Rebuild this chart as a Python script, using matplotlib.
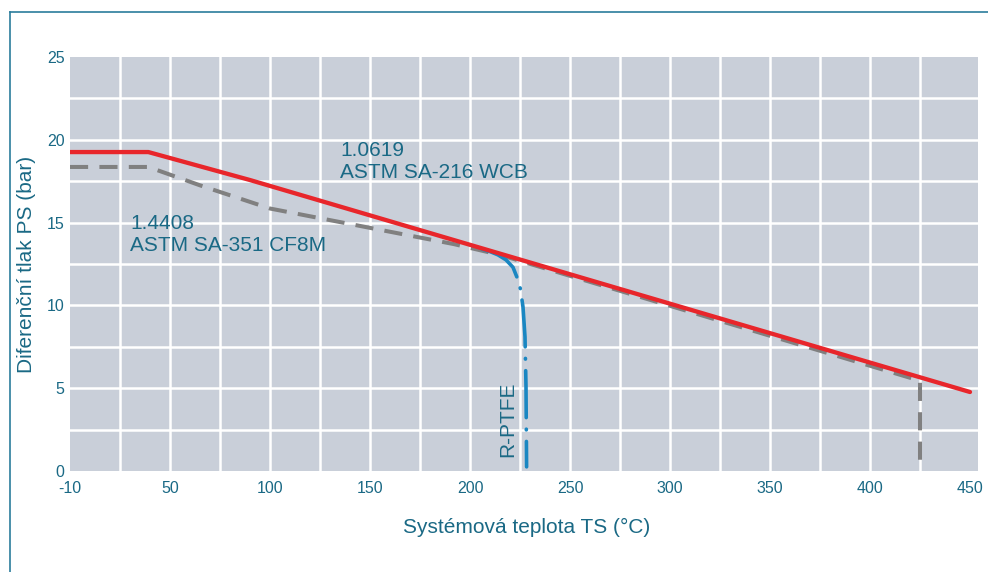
import matplotlib
matplotlib.use('Agg')
import matplotlib.pyplot as plt
import numpy as np
from matplotlib.lines import Line2D

plt.rcParams['font.family'] = ['Liberation Sans', 'DejaVu Sans']

# data
xticks = [-10, 50, 100, 150, 200, 250, 300, 350, 400, 450]
yticks = [0, 5, 10, 15, 20, 25]

# 1.0619 / ASTM SA-216 WCB (red)
wcb_t = [-10, 37, 90, 450]
wcb_p = [19.26, 19.26, 17.57, 4.77]

# 1.4408 / ASTM SA-351 CF8M (grey dashed)
cf8m_t = [-10, 37, 65, 100, 192, 215, 425, 425]
cf8m_p = [18.36, 18.36, 17.25, 15.85, 13.7, 13.05, 5.45, 0.0]

# R-PTFE seat (blue dash-dot)
ptfe_t = [206, 210, 214, 218, 221.5, 223.8, 225.2, 226.5, 227.5, 228, 228.3]
ptfe_p = [13.4, 13.25, 13.05, 12.75, 12.3, 11.6, 11.0, 9.9, 8.1, 5.1, 0.25]

txt = '#1a6985'
bg = '#c9cfd9'


# the first interval (-10..50) is drawn as wide as the 50-wide ones
def fwd(x):
    x = np.asarray(x, dtype=float)
    return np.where(x < 50, 50 + (x - 50) * 50 / 60, x)


def inv(t):
    t = np.asarray(t, dtype=float)
    return np.where(t < 50, 50 + (t - 50) * 60 / 50, t)


fig = plt.figure(figsize=(9.88, 5.72), dpi=100)
ax = fig.add_axes([70 / 988, 101 / 572, 908 / 988, 414 / 572])
ax.set_xscale('function', functions=(fwd, inv))
ax.set_facecolor(bg)
ax.set_xlim(-10, 454)
ax.set_ylim(0, 25)

ax.plot(cf8m_t, cf8m_p, color='#808080', lw=2.9, ls=(0, (4.5, 2.8)),
        dash_capstyle='butt', zorder=2)
ax.plot(ptfe_t, ptfe_p, color='#1a87c2', lw=2.6, ls=(0, (13, 3.2, 0.2, 3.2)),
        dash_capstyle='round', zorder=3)
ax.plot(wcb_t, wcb_p, color='#e8262b', lw=3.1, solid_capstyle='round', zorder=4)

ax.set_xticks(xticks)
ax.set_xticklabels([str(v) for v in xticks])
ax.set_yticks(yticks)
ax.set_xticks([20] + list(range(50, 450, 25)), minor=True)
ax.set_yticks(np.arange(2.5, 25, 2.5), minor=True)
ax.xaxis.remove_overlapping_locs = False
ax.yaxis.remove_overlapping_locs = False
ax.grid(False, which='major')
ax.grid(True, which='minor', color='white', lw=1.8)
ax.set_axisbelow(True)
ax.tick_params(which='both', length=0, labelsize=11.5, labelcolor=txt)
ax.tick_params(axis='x', pad=7)
ax.tick_params(axis='y', pad=4)
for s in ax.spines.values():
    s.set_visible(False)

ax.set_xlabel('Systémová teplota TS (°C)', fontsize=15, color=txt)
ax.set_ylabel('Diferenční tlak PS (bar)', fontsize=15, color=txt)
ax.xaxis.set_label_coords(0.503, -0.113)
ax.yaxis.set_label_coords(-0.037, 0.5)

ax.text(135, 19.95, '1.0619\nASTM SA-216 WCB', fontsize=15, color=txt,
        ha='left', va='top')
ax.text(26, 15.5, '1.4408\nASTM SA-351 CF8M', fontsize=15, color=txt,
        ha='left', va='top')
ax.text(219, 0.85, 'R-PTFE', fontsize=15, color=txt, rotation=90,
        ha='center', va='bottom')

# frame around the figure
fc = '#2b7d9c'
fig.add_artist(Line2D([10 / 988, 10 / 988], [-0.1, 1 - 12 / 572],
                      transform=fig.transFigure, color=fc, lw=1.2))
fig.add_artist(Line2D([10 / 988, 1.1], [1 - 12 / 572, 1 - 12 / 572],
                      transform=fig.transFigure, color=fc, lw=1.2))

fig.savefig('out.png', dpi=100)
